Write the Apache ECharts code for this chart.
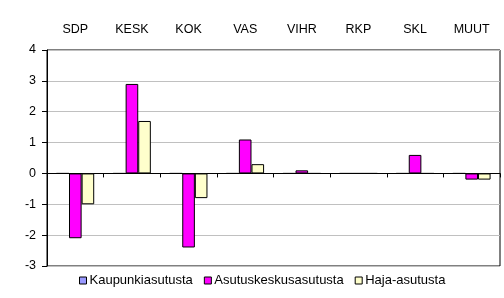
<!DOCTYPE html>
<html><head><meta charset="utf-8">
<script src="https://cdn.jsdelivr.net/npm/echarts@6/dist/echarts.min.js"></script>
<style>html,body{margin:0;padding:0;background:#fff}#c{width:504px;height:298px}</style>
</head><body><div id="c"></div>
<script>
var categories = ['SDP','KESK','KOK','VAS','VIHR','RKP','SKL','MUUT'];
var seriesNames = ['Kaupunkiasutusta','Asutuskeskusasutusta','Haja-asutusta'];
var kaupunki = [0,0,0,0,0,0,0,0];
var asutuskeskus = [-2.1,2.9,-2.4,1.1,0.1,0,0.6,-0.2];
var haja = [-1.0,1.7,-0.8,0.3,0,0,0,-0.2];
var yTicks = {min:-3, max:4, interval:1};
var colors = ['#9999FF','#FF00FF','#FFFFCC'];

var font = 'Liberation Sans, Arial, sans-serif';
var chart = echarts.init(document.getElementById('c'), null, {renderer:'canvas'});
function mk(name, data, i){
  return {name:name, type:'bar', xAxisIndex:0, data:data, barWidth:12.6, barGap:'0%',
    itemStyle:{color:colors[i], borderColor:'#000', borderWidth:1}, silent:true,
    emphasis:{disabled:true}};
}
chart.setOption({
  animation:false,
  grid:{left:47, right:4, top:50, bottom:32, show:true, borderColor:'#000', borderWidth:1, backgroundColor:'#fff'},
  legend:{bottom:6, left:74, itemWidth:7, itemHeight:7, itemGap:11, icon:'rect',
    textStyle:{fontFamily:font, fontSize:13, color:'#000', padding:[0,0,0,-2]},
    itemStyle:{borderColor:'#000', borderWidth:1},
    data:seriesNames},
  xAxis:[
    {type:'category', data:categories, position:'bottom',
     axisLine:{onZero:true, lineStyle:{color:'#000', width:1}},
     axisTick:{show:true, length:4, lineStyle:{color:'#000'}},
     axisLabel:{show:false}, splitLine:{show:false}},
    {type:'category', data:categories, position:'top',
     axisLine:{show:false}, axisTick:{show:false},
     axisLabel:{margin:14, fontFamily:font, fontSize:12.5, color:'#000'}}
  ],
  yAxis:{type:'value', min:yTicks.min, max:yTicks.max, interval:yTicks.interval,
    axisLine:{show:true, lineStyle:{color:'#000'}},
    axisTick:{show:true, length:5, lineStyle:{color:'#000'}},
    axisLabel:{margin:11, fontFamily:font, fontSize:12.5, color:'#000'},
    splitLine:{show:true, lineStyle:{color:'#c0c0c0', width:1}}},
  series:[mk(seriesNames[0],kaupunki,0), mk(seriesNames[1],asutuskeskus,1), mk(seriesNames[2],haja,2)]
});
</script></body></html>
